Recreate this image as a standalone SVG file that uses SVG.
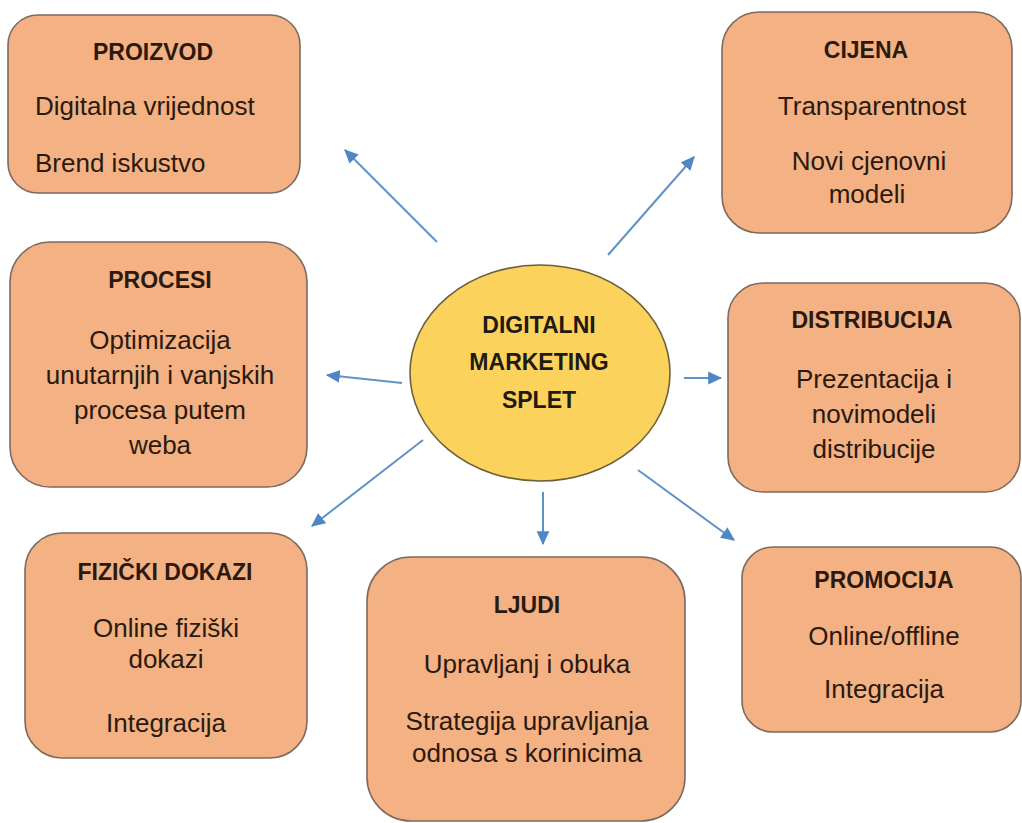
<svg xmlns="http://www.w3.org/2000/svg" width="1022" height="823" viewBox="0 0 1022 823">
  <style>
    .box { fill: #F4B183; stroke: #7E6A5E; stroke-width: 1.6; }
    .hub { fill: #FBD35C; stroke: #6E5F3C; stroke-width: 1.6; }
    .title { font-family: "Liberation Sans", Arial, sans-serif; font-weight: bold; font-size: 23px; fill: #2A1A10; text-anchor: middle; }
    .body { font-family: "Liberation Sans", Arial, sans-serif; font-size: 26px; fill: #2A1A10; text-anchor: middle; }
    .left { text-anchor: start; }
    .hubtext { font-family: "Liberation Sans", Arial, sans-serif; font-weight: bold; font-size: 23px; fill: #1E1A14; text-anchor: middle; }
    .link { stroke: #5F93C8; stroke-width: 2; fill: none; marker-end: url(#head); }
  </style>
  <defs>
    <marker id="head" markerUnits="userSpaceOnUse" markerWidth="14" markerHeight="14" viewBox="0 0 12 12" refX="11" refY="6" orient="auto">
      <path d="M0,0.5 L12,6 L0,11.5 Z" fill="#4F87C2"/>
    </marker>
  </defs>

  <rect width="1022" height="823" fill="#FFFFFF"/>

  <!-- connectors from the hub to each element -->
  <g id="connectors">
    <line class="link" x1="437" y1="242" x2="345" y2="150"/>
    <line class="link" x1="608" y1="255" x2="694" y2="157"/>
    <line class="link" x1="402" y1="383" x2="327" y2="375"/>
    <line class="link" x1="684" y1="378" x2="721" y2="378"/>
    <line class="link" x1="423" y1="440" x2="312" y2="526"/>
    <line class="link" x1="543" y1="492" x2="543" y2="544"/>
    <line class="link" x1="638" y1="470" x2="734" y2="540"/>
  </g>

  <g id="hub">
    <ellipse class="hub" cx="540" cy="373" rx="130" ry="108"/>
    <text class="hubtext" x="539" y="333">DIGITALNI</text>
    <text class="hubtext" x="539" y="370">MARKETING</text>
    <text class="hubtext" x="539" y="408">SPLET</text>
  </g>

  <g id="proizvod">
    <rect class="box" x="8" y="15" width="292" height="178" rx="30"/>
    <text class="title" x="153" y="60">PROIZVOD</text>
    <text class="body left" x="35" y="115">Digitalna vrijednost</text>
    <text class="body left" x="35" y="172">Brend iskustvo</text>
  </g>

  <g id="cijena">
    <rect class="box" x="722" y="12" width="290" height="221" rx="37"/>
    <text class="title" x="866" y="58">CIJENA</text>
    <text class="body" x="872" y="115">Transparentnost</text>
    <text class="body" x="869" y="170">Novi cjenovni</text>
    <text class="body" x="867" y="203">modeli</text>
  </g>

  <g id="procesi">
    <rect class="box" x="10" y="242" width="297" height="245" rx="40"/>
    <text class="title" x="160" y="288">PROCESI</text>
    <text class="body" x="160" y="349">Optimizacija</text>
    <text class="body" x="160" y="384">unutarnjih i vanjskih</text>
    <text class="body" x="160" y="419">procesa putem</text>
    <text class="body" x="160" y="454">weba</text>
  </g>

  <g id="distribucija">
    <rect class="box" x="728" y="283" width="292" height="209" rx="35"/>
    <text class="title" x="872" y="328">DISTRIBUCIJA</text>
    <text class="body" x="874" y="388">Prezentacija i</text>
    <text class="body" x="874" y="423">novimodeli</text>
    <text class="body" x="874" y="458">distribucije</text>
  </g>

  <g id="fizicki-dokazi">
    <rect class="box" x="25" y="533" width="282" height="225" rx="37"/>
    <text class="title" x="165" y="580">FIZIČKI DOKAZI</text>
    <text class="body" x="166" y="637">Online fiziški</text>
    <text class="body" x="166" y="668">dokazi</text>
    <text class="body" x="166" y="732">Integracija</text>
  </g>

  <g id="ljudi">
    <rect class="box" x="367" y="557" width="318" height="264" rx="44"/>
    <text class="title" x="527" y="613">LJUDI</text>
    <text class="body" x="527" y="673">Upravljanj i obuka</text>
    <text class="body" x="527" y="730">Strategija upravljanja</text>
    <text class="body" x="527" y="762">odnosa s korinicima</text>
  </g>

  <g id="promocija">
    <rect class="box" x="742" y="547" width="279" height="185" rx="31"/>
    <text class="title" x="884" y="588">PROMOCIJA</text>
    <text class="body" x="884" y="645">Online/offline</text>
    <text class="body" x="884" y="698">Integracija</text>
  </g>
</svg>
